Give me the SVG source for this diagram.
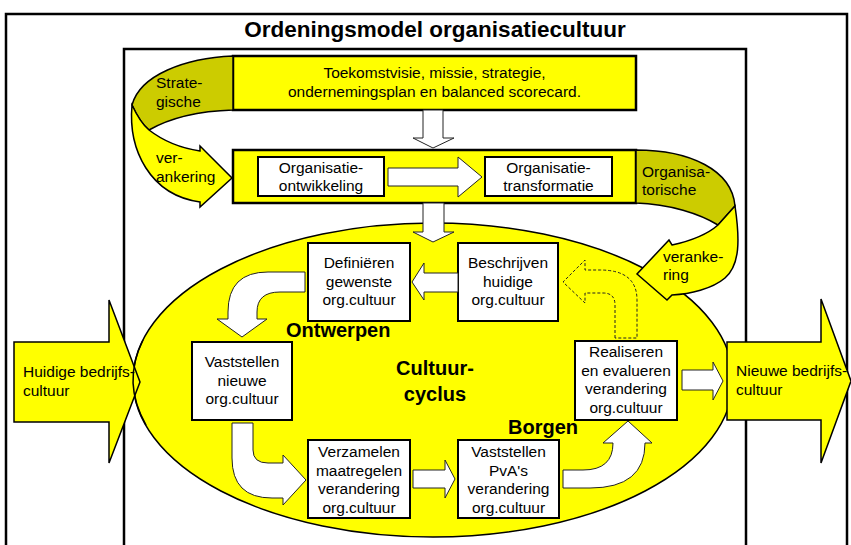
<svg xmlns="http://www.w3.org/2000/svg" width="851" height="545" viewBox="0 0 851 545">
<style>
.frame{fill:none;stroke:#000;stroke-width:2.5}
.box{fill:#fff;stroke:#000;stroke-width:2}
.ybox{fill:#ff0;stroke:#000;stroke-width:2.5}
.yarrow{fill:#ff0;stroke:#000;stroke-width:1.5;stroke-linejoin:miter}
.dark{fill:#cccc00;stroke:#000;stroke-width:1.5}
.conn{fill:#fff;stroke:#222;stroke-width:1}
.dash{fill:none;stroke:#222;stroke-width:1;stroke-dasharray:3,2}
text{font-family:"Liberation Sans",Arial,sans-serif;font-size:15.5px;fill:#000}
.c{text-anchor:middle}
.b{font-weight:bold;font-size:20px}
</style>
<rect width="851" height="545" fill="#fff"/>
<g id="frames">
<rect class="frame" x="6" y="14" width="841" height="560"/>
<rect class="frame" x="124" y="49" width="622" height="520"/>
</g>
<text class="b c" x="435" y="37" style="font-size:22.5px">Ordeningsmodel organisatiecultuur</text>
<g id="cycle">
<ellipse cx="433" cy="380" rx="300" ry="157" fill="#ff0" stroke="#000" stroke-width="1.5"/>
<text class="b c" x="435" y="375">Cultuur-</text>
<text class="b c" x="435" y="401">cyclus</text>
<text class="b" x="286" y="337">Ontwerpen</text>
<text class="b" x="508" y="434">Borgen</text>
</g>
<g id="huidige">
<path class="yarrow" d="M14,342 L109,342 L109,300 L140,382 L109,463 L109,422 L14,422 Z"/>
<path d="M143,340 A300,157 0 0,0 146,425" fill="none" stroke="#000" stroke-width="1.5"/>
<text x="23" y="377">Huidige bedrijfs-</text>
<text x="23" y="396">cultuur</text>
</g>
<g id="nieuwe">
<path class="yarrow" d="M727,342 L821,342 L821,299 L851,381 L821,463 L821,420 L727,420 Z"/>
<text x="736" y="376">Nieuwe bedrijfs-</text>
<text x="736" y="395">cultuur</text>
</g>
<g id="toekomst">
<rect class="ybox" x="233" y="56" width="403" height="54"/>
<text class="c" x="434.5" y="78">Toekomstvisie, missie, strategie,</text>
<text class="c" x="434.5" y="97">ondernemingsplan en balanced scorecard.</text>
</g>
<g id="organisatie">
<rect class="ybox" x="233" y="150" width="403" height="53"/>
</g>
<g id="ontwikkeling">
<rect class="box" x="258" y="157" width="126" height="39"/>
<text class="c" x="321" y="173">Organisatie-</text>
<text class="c" x="321" y="191">ontwikkeling</text>
</g>
<g id="transformatie">
<rect class="box" x="485" y="157" width="127" height="39"/>
<text class="c" x="548.5" y="173">Organisatie-</text>
<text class="c" x="548.5" y="191">transformatie</text>
</g>
<g id="strategische">
<path class="dark" d="M233,56 C185,58 140,75 132,105 C138,118 143,125 149,130 C170,118 200,111 233,110 Z"/>
<path class="yarrow" d="M132,105 C128,150 150,195 200,202 L200,207 L232,178 L200,146 L200,151 C180,148 162,140 149,130 C143,125 138,118 132,105 Z"/>
<text x="156" y="88">Strate-</text>
<text x="156" y="107">gische</text>
<text x="156" y="163">ver-</text>
<text x="156" y="182">ankering</text>
</g>
<g id="organisatorische">
<path class="dark" d="M636,150 C690,150 732,170 735,206 L718,225 C700,214 670,204 636,203 Z"/>
<path class="yarrow" d="M735,206 C740,240 740,265 725,278 C712,289 690,294 672,295 L667,300 L637,274 L669,240 L672,245 C695,240 710,232 718,225 Z"/>
<text x="642" y="177">Organisa-</text>
<text x="642" y="195">torische</text>
<text x="663" y="262">veranke-</text>
<text x="663" y="280">ring</text>
</g>
<g id="definieren">
<rect class="box" x="308" y="243" width="102" height="78"/>
<text class="c" x="359" y="268">Definiëren</text>
<text class="c" x="359" y="286.5">gewenste</text>
<text class="c" x="359" y="305">org.cultuur</text>
</g>
<g id="beschrijven">
<rect class="box" x="458" y="243" width="100" height="78"/>
<text class="c" x="508" y="268">Beschrijven</text>
<text class="c" x="508" y="286.5">huidige</text>
<text class="c" x="508" y="305">org.cultuur</text>
</g>
<g id="vaststellen-nieuwe">
<rect class="box" x="192" y="342" width="100" height="78"/>
<text class="c" x="242" y="367">Vaststellen</text>
<text class="c" x="242" y="385.5">nieuwe</text>
<text class="c" x="242" y="404">org.cultuur</text>
</g>
<g id="verzamelen">
<rect class="box" x="308" y="440" width="102" height="78"/>
<text class="c" x="359" y="457">Verzamelen</text>
<text class="c" x="359" y="475.5">maatregelen</text>
<text class="c" x="359" y="494">verandering</text>
<text class="c" x="359" y="512.5">org.cultuur</text>
</g>
<g id="pva">
<rect class="box" x="458" y="440" width="101" height="78"/>
<text class="c" x="508.5" y="457">Vaststellen</text>
<text class="c" x="508.5" y="475.5">PvA's</text>
<text class="c" x="508.5" y="494">verandering</text>
<text class="c" x="508.5" y="512.5">org.cultuur</text>
</g>
<g id="realiseren">
<rect class="box" x="575" y="341" width="102" height="79"/>
<text class="c" x="626" y="357">Realiseren</text>
<text class="c" x="626" y="375.5">en evalueren</text>
<text class="c" x="626" y="394">verandering</text>
<text class="c" x="626" y="412.5">org.cultuur</text>
</g>
<g id="connectors">
<path class="conn" d="M423,110 L443,110 L443,138 L454,138 L433,148 L413,138 L423,138 Z"/>
<path class="conn" d="M388,168 L458,168 L458,157 L482,177 L458,197 L458,186 L388,186 Z"/>
<path class="conn" d="M423,203 L444,203 L444,232 L454,232 L433,242 L413,232 L423,232 Z"/>
<path class="conn" d="M458,273 L424,273 L424,263 L412,282 L424,300 L424,292 L458,292 Z"/>
<path class="conn" d="M305,272 L268,272 Q228,272 228,312 L228,319 L217,319 L242,337 L267,319 L257,319 L257,312 Q257,292 280,292 L305,292 Z"/>
<path class="conn" d="M232,423 L253,423 L253,450 Q253,463 268,463 L283,463 L283,455 L306,480 L283,505 L283,498 L272,498 Q232,498 232,458 Z"/>
<path class="conn" d="M413,470 L445,470 L445,460 L455,479 L445,498 L445,488 L413,488 Z"/>
<path class="conn" d="M563,470 L583,470 Q613,470 613,443 L603,443 L628,421 L652,443 L645,443 Q645,488 590,488 L563,488 Z"/>
<path class="conn" d="M682,370 L713,370 L713,362 L723,381 L713,400 L713,390 L682,390 Z"/>
<path class="dash" d="M615,338 L615,305 Q615,293 603,293 L585,293 L585,303 L563,282 L585,260 L585,270 L600,270 Q637,270 637,300 L637,338 Z"/>
</g>
</svg>
